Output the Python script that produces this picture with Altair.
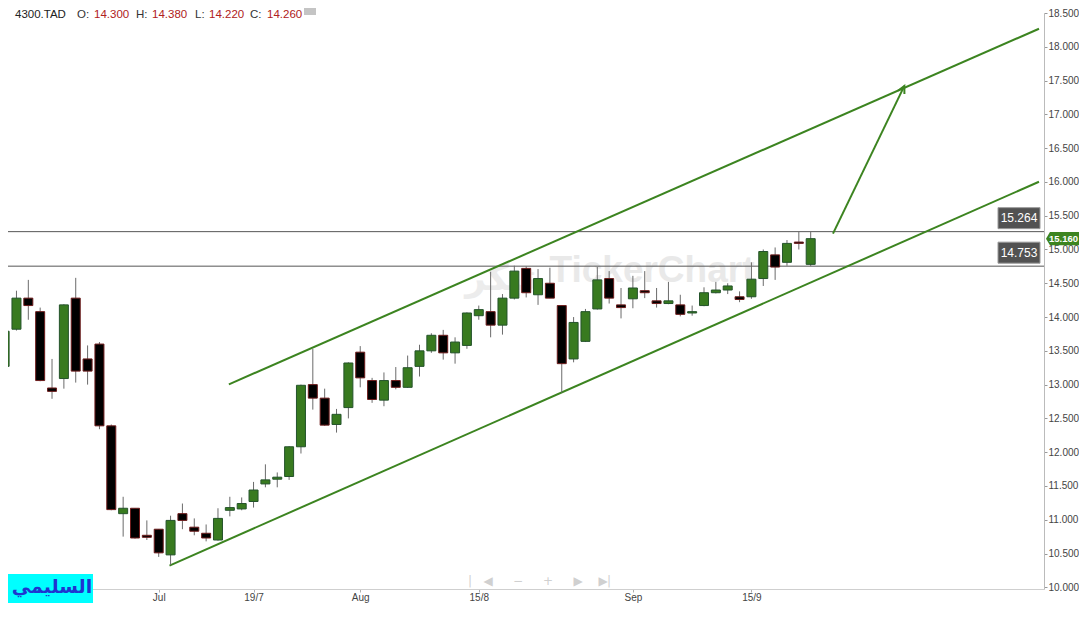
import altair as alt
import pandas as pd

# ---------------- data ----------------
candle_idx = list(range(-1, 68))
opens = [13.27, 13.82, 14.28, 14.08, 12.95, 13.09, 14.28, 13.38, 13.60, 12.39,
         11.09, 11.17, 10.77, 10.86, 10.48, 11.09, 10.89, 10.80, 10.70, 11.14,
         11.16, 11.27, 11.53, 11.60, 11.64, 12.08, 13.00, 12.80, 12.41, 12.66,
         13.48, 13.06, 12.77, 13.06, 12.96, 13.27, 13.50, 13.73, 13.47, 13.58,
         14.02, 14.08, 13.88, 14.28, 14.72, 14.33, 14.50, 14.17, 13.38, 13.64,
         14.12, 14.57, 14.18, 14.27, 14.39, 14.24, 14.20, 14.18, 14.06, 14.17,
         14.36, 14.40, 14.30, 14.30, 14.57, 14.92, 14.81, 15.11, 14.78]
highs = [13.79, 14.39, 14.55, 14.14, 13.38, 14.19, 14.58, 13.58, 13.63, 12.41,
         11.34, 11.17, 10.99, 10.86, 11.06, 11.24, 11.02, 10.93, 11.17, 11.34,
         11.33, 11.56, 11.82, 11.70, 12.09, 13.00, 13.53, 12.94, 12.64, 13.33,
         13.57, 13.10, 13.18, 13.26, 13.43, 13.59, 13.76, 13.81, 13.70, 14.07,
         14.17, 14.67, 14.34, 14.76, 14.75, 14.71, 14.73, 14.17, 14.00, 14.12,
         14.74, 14.68, 14.43, 14.61, 14.68, 14.43, 14.52, 14.33, 14.17, 14.44,
         14.52, 14.50, 14.38, 14.81, 15.00, 15.03, 15.14, 15.264, 15.264]
lows = [13.27, 13.80, 13.96, 13.05, 12.79, 12.94, 13.03, 13.00, 12.34, 11.14,
        10.75, 10.72, 10.70, 10.45, 10.33, 10.86, 10.77, 10.68, 10.69, 11.05,
        11.14, 11.18, 11.48, 11.48, 11.59, 11.98, 12.63, 12.39, 12.29, 12.50,
        12.96, 12.73, 12.68, 12.93, 12.95, 13.12, 13.47, 13.37, 13.31, 13.53,
        13.96, 13.70, 13.74, 14.26, 14.29, 14.18, 14.28, 12.88, 13.33, 13.63,
        14.11, 14.20, 13.98, 14.13, 14.28, 14.14, 14.19, 14.01, 14.02, 14.16,
        14.35, 14.34, 14.22, 14.27, 14.46, 14.55, 14.76, 15.00, 14.753]
closes = [13.79, 14.28, 14.17, 13.06, 12.90, 14.18, 13.20, 13.20, 12.39, 11.15,
          11.17, 10.73, 10.74, 10.51, 10.99, 10.99, 10.83, 10.73, 11.02, 11.18,
          11.24, 11.44, 11.59, 11.63, 12.08, 12.99, 12.80, 12.40, 12.56, 13.32,
          13.10, 12.78, 13.06, 12.96, 13.25, 13.50, 13.73, 13.47, 13.63, 14.06,
          14.11, 13.88, 14.28, 14.68, 14.36, 14.57, 14.28, 13.31, 13.92, 14.08,
          14.55, 14.28, 14.14, 14.43, 14.36, 14.20, 14.24, 14.04, 14.08, 14.36,
          14.40, 14.46, 14.26, 14.56, 14.97, 14.74, 15.09, 15.09, 15.16]

tick_idx = [12, 20, 29, 39, 52, 62]
tick_labels = ["Jul", "19/7", "Aug", "15/8", "Sep", "15/9"]
y_ticks = [10.0, 10.5, 11.0, 11.5, 12.0, 12.5, 13.0, 13.5, 14.0,
           14.5, 15.0, 15.5, 16.0, 16.5, 17.0, 17.5, 18.0, 18.5]

level_values = [15.264, 14.753]
last_close = [15.160]

upper_i = [17.92, 86.26]
upper_p = [13.004, 18.267]
lower_i = [12.91, 86.26]
lower_p = [10.322, 16.003]
arrow_i = [68.88, 74.90]
arrow_p = [15.235, 17.421]

header_names = ["4300.TAD", "O:", "H:", "L:", "C:"]
header_values = ["14.300", "14.380", "14.220", "14.260"]
author = "السليمي"
watermark = "TickerChart"

# ---------------- tables ----------------
df = pd.DataFrame({"i": candle_idx, "open": opens, "high": highs,
                   "low": lows, "close": closes})
df["dir"] = ["up" if c >= o else "down" for o, c in zip(opens, closes)]

trend = pd.DataFrame({
    "i": upper_i + lower_i,
    "p": upper_p + lower_p,
    "seg": ["upper"] * len(upper_i) + ["lower"] * len(lower_i),
})
arrow = pd.DataFrame({"i": arrow_i, "p": arrow_p})
arrow_tip = arrow.tail(1)
levels = pd.DataFrame({"lv": level_values, "txt": [f"{v:.3f}" for v in level_values]})
tag = pd.DataFrame({"p": last_close, "txt": [f"{v:.3f}" for v in last_close]})

# ---------------- scales / axes ----------------
GREEN = "#3c8420"
FONT = "Liberation Sans"
xs = alt.Scale(domain=[-0.292, 86.26], nice=False, zero=False)
ys = alt.Scale(domain=[9.975, 18.5], nice=False, zero=False)

expr = ""
for v, lab in zip(tick_idx, tick_labels):
    expr += f"datum.value == {v} ? '{lab}' : "
expr += "''"

x_axis = alt.Axis(values=tick_idx, labelExpr=expr, title=None, grid=False,
                  tickSize=3, tickColor="#b0b0b0", domainColor="#cfcfcf",
                  labelColor="#444444", labelFont=FONT, labelFontSize=10,
                  labelPadding=0, labelFlush=False)
y_axis = alt.Axis(orient="right", values=y_ticks, format=".3f", title=None,
                  grid=False, tickSize=3, tickColor="#999999",
                  domainColor="#bbbbbb", labelColor="#444444", labelFont=FONT,
                  labelFontSize=10, labelPadding=1)

X = lambda f: alt.X(f, scale=xs, axis=x_axis)
Y = lambda f: alt.Y(f, scale=ys, axis=y_axis)

one = pd.DataFrame({"k": [0]})

# ---------------- layers ----------------
wm = alt.Chart(one).mark_text(text=watermark, font=FONT, fontWeight="bold",
                              fontSize=37, color="#e9e9e9", align="center",
                              baseline="middle").encode(
    x=alt.value(644), y=alt.value(258))
wm_logo = alt.Chart(one).mark_text(text="تيكر", font="DejaVu Sans", fontWeight="bold",
                                   fontSize=36, color="#ececec", align="center",
                                   baseline="middle").encode(
    x=alt.value(493), y=alt.value(266))

level_rules = alt.Chart(levels).mark_rule(color="#555555", strokeWidth=1).encode(
    y=Y("lv:Q"))

trend_lines = alt.Chart(trend).mark_line(color=GREEN, strokeWidth=2, clip=True).encode(
    x=X("i:Q"), y=Y("p:Q"), detail="seg:N")

arrow_line = alt.Chart(arrow).mark_line(color=GREEN, strokeWidth=2, clip=True).encode(
    x=X("i:Q"), y=Y("p:Q"))
arrow_head = alt.Chart(arrow_tip).mark_point(
    shape="M-0.8,1.6L0,0L0.8,1.6", filled=False, color=GREEN, strokeWidth=2,
    size=80, angle=26, opacity=1).encode(x=X("i:Q"), y=Y("p:Q"))

wicks = alt.Chart(df).mark_rule(color="#6b6b6b", strokeWidth=1, clip=True).encode(
    x=X("i:Q"), y=Y("low:Q"), y2="high:Q")
bodies = alt.Chart(df).mark_bar(size=9, strokeWidth=1, clip=True).encode(
    x=X("i:Q"), y=Y("open:Q"), y2="close:Q",
    fill=alt.Fill("dir:N", scale=alt.Scale(domain=["up", "down"], range=["#387a1f", "#000000"]), legend=None),
    stroke=alt.Stroke("dir:N", scale=alt.Scale(domain=["up", "down"], range=["#24532b", "#6e1c1c"]), legend=None),
)

level_boxes = alt.Chart(levels).mark_rect(color="#525252", stroke="#9a9a9a", strokeWidth=1,
                                          yOffset=-24, y2Offset=-3).encode(
    x=alt.value(990), x2=alt.value(1032), y=Y("lv:Q"), y2="lv:Q")
level_text = alt.Chart(levels).mark_text(color="white", font=FONT, fontSize=12,
                                         align="center", baseline="middle", dy=-13.5).encode(
    x=alt.value(1011), y=Y("lv:Q"), text="txt:N")

tag_shape = alt.Chart(tag).mark_point(
    shape="M-1,0L-0.76,-0.4L1,-0.4L1,0.4L-0.76,0.4Z", filled=True,
    color=GREEN, size=1089, opacity=1).encode(x=alt.value(1054.5), y=Y("p:Q"))
tag_text = alt.Chart(tag).mark_text(color="white", font=FONT, fontSize=9.5, fontWeight="bold",
                                    align="center", baseline="middle").encode(
    x=alt.value(1055.5), y=Y("p:Q"), text="txt:N")

# header
header_layers = []
name_x = [7, 69, 128, 187, 242]
val_x = [86, 144, 201, 259]
HEADER_Y = 4.5
for t, xp in zip(header_names, name_x):
    header_layers.append(alt.Chart(one).mark_text(
        text=t, font=FONT, fontSize=11.5, color="#222222" if t == header_names[0] else "#333333",
        align="left", baseline="alphabetic").encode(x=alt.value(xp), y=alt.value(HEADER_Y)))
for t, xp in zip(header_values, val_x):
    header_layers.append(alt.Chart(one).mark_text(
        text=t, font=FONT, fontSize=11.5, color="#b02020",
        align="left", baseline="alphabetic").encode(x=alt.value(xp), y=alt.value(HEADER_Y)))
dots_box = alt.Chart(one).mark_rect(color="#c4c4c4").encode(
    x=alt.value(296), x2=alt.value(308), y=alt.value(-10), y2=alt.value(2))

# navigation icons
nav = []
for t, xp in [("|", 462), ("◀", 480), ("−", 510), ("+", 540), ("▶", 570), ("▶", 595), ("|", 601)]:
    nav.append(alt.Chart(one).mark_text(text=t, color="#d0d0d0", fontSize=12, font="DejaVu Sans",
                                        align="center", baseline="middle").encode(
        x=alt.value(xp), y=alt.value(568)))

# author label
auth_box = alt.Chart(one).mark_rect(color="#00ffff").encode(
    x=alt.value(-3), x2=alt.value(85), y=alt.value(561), y2=alt.value(590))
auth_txt = alt.Chart(one).mark_text(text=author, font="DejaVu Sans", fontWeight="bold",
                                    fontSize=19, color="#1f35d0", align="center",
                                    baseline="middle").encode(
    x=alt.value(44), y=alt.value(574))

chart = alt.layer(
    wm, wm_logo, level_rules, trend_lines, arrow_line, arrow_head, wicks, bodies,
    level_boxes, level_text, tag_shape, tag_text, *header_layers, dots_box,
    *nav, auth_box, auth_txt,
).properties(
    width=1036, height=576,
    padding={"left": 0, "top": 5, "right": 35, "bottom": 15},
    autosize=alt.AutoSizeParams(type="none"),
    background="white",
).configure_view(stroke=None)

chart.save("out.html", embed_options={"renderer": "svg", "actions": False})
